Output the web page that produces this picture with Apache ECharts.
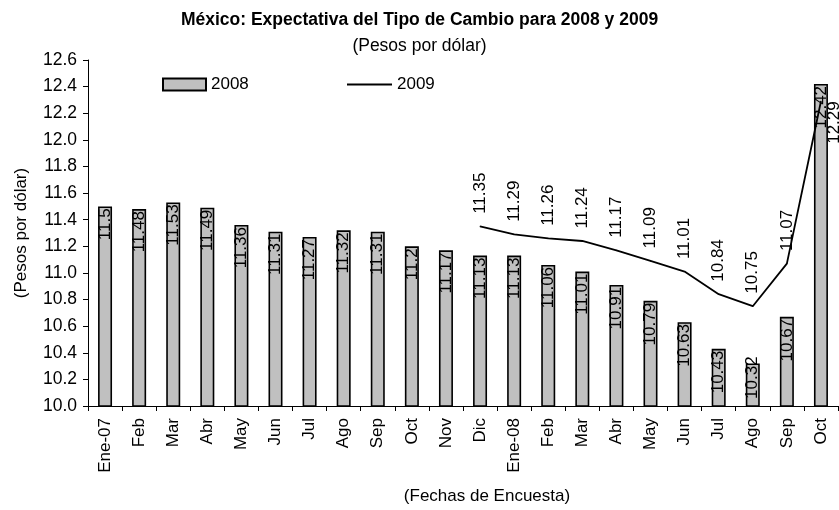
<!DOCTYPE html>
<html>
<head>
<meta charset="utf-8">
<script src="https://cdn.jsdelivr.net/npm/echarts@6/dist/echarts.min.js"></script>
<style>
  html, body { margin: 0; padding: 0; background: #fff; }
  #chart { width: 839px; height: 510px; }
</style>
</head>
<body>
<div id="chart"></div>
<script>
const categories = ['Ene-07', 'Feb', 'Mar', 'Abr', 'May', 'Jun', 'Jul', 'Ago', 'Sep', 'Oct', 'Nov', 'Dic',
  'Ene-08', 'Feb', 'Mar', 'Abr', 'May', 'Jun', 'Jul', 'Ago', 'Sep', 'Oct'];
const values2008 = [11.5, 11.48, 11.53, 11.49, 11.36, 11.31, 11.27, 11.32, 11.31, 11.2, 11.17, 11.13,
  11.13, 11.06, 11.01, 10.91, 10.79, 10.63, 10.43, 10.32, 10.67, 12.42];
const values2009 = [null, null, null, null, null, null, null, null, null, null, null, 11.35,
  11.29, 11.26, 11.24, 11.17, 11.09, 11.01, 10.84, 10.75, 11.07, 12.29];

const font = 'Liberation Sans, Arial, sans-serif';
const chart = echarts.init(document.getElementById('chart'));

// shortest bar: label sticks out above the bar top in the original
const barData = values2008.map((v, i) => {
  if (i === 19) {
    return { value: v, label: { distance: -7 } };
  }
  return v;
});

// last point of 2009 has its label on the right side, like the original
const lineData = values2009.map((v, i) => {
  if (i === values2009.length - 1) {
    return { value: v, label: { position: 'right', distance: 13, align: 'right' } };
  }
  return v;
});

const option = {
  animation: false,
  backgroundColor: '#fff',
  textStyle: { fontFamily: font },
  title: [
    { text: 'México: Expectativa del Tipo de Cambio para 2008 y 2009', left: 'center', top: 11, padding: 0,
      textStyle: { fontFamily: font, fontSize: 17.5, fontWeight: 'bold', color: '#000' } },
    { text: '(Pesos por dólar)', left: 'center', top: 37, padding: 0,
      textStyle: { fontFamily: font, fontSize: 17.5, fontWeight: 'normal', color: '#000' } }
  ],
  legend: [
    { data: [{ name: '2008', icon: 'rect' }], left: 162, top: 76, padding: 0,
      itemWidth: 43, itemHeight: 12,
      textStyle: { fontFamily: font, fontSize: 17, color: '#000' } },
    { data: [{ name: '2009', icon: 'rect', itemStyle: { color: '#000', borderWidth: 0 } }],
      left: 347, top: 76, padding: 0, itemWidth: 45, itemHeight: 2,
      textStyle: { fontFamily: font, fontSize: 17, color: '#000' } }
  ],
  grid: { left: 88, right: 1, top: 60, bottom: 100 },
  xAxis: {
    type: 'category',
    data: categories,
    name: '(Fechas de Encuesta)',
    nameLocation: 'middle',
    nameGap: 82,
    nameTextStyle: { fontFamily: font, fontSize: 17, color: '#000', padding: [0, 0, 0, 48] },
    axisLine: { lineStyle: { color: '#000', width: 1 } },
    axisTick: { show: true, alignWithLabel: false, length: 5, lineStyle: { color: '#000' } },
    axisLabel: { rotate: 90, fontFamily: font, fontSize: 17, color: '#000', margin: 12, interval: 0 }
  },
  yAxis: {
    type: 'value',
    min: 10.0,
    max: 12.6,
    interval: 0.2,
    name: '(Pesos por dólar)',
    nameLocation: 'middle',
    nameRotate: 90,
    nameGap: 58,
    nameTextStyle: { fontFamily: font, fontSize: 17, color: '#000' },
    axisLine: { show: true, lineStyle: { color: '#000', width: 1 } },
    axisTick: { show: true, length: 5, lineStyle: { color: '#000' } },
    splitLine: { show: false },
    axisLabel: { fontFamily: font, fontSize: 17.5, color: '#000', margin: 11, formatter: v => v.toFixed(1) }
  },
  series: [
    {
      name: '2008',
      type: 'bar',
      data: barData,
      barWidth: 14,
      itemStyle: { color: '#c0c0c0', borderColor: '#000', borderWidth: 1.6 },
      label: {
        show: true, position: 'insideTop', rotate: 90, distance: 2,
        align: 'right', verticalAlign: 'middle',
        fontFamily: font, fontSize: 17, color: '#000'
      }
    },
    {
      name: '2009',
      type: 'line',
      data: lineData,
      connectNulls: false,
      symbol: 'circle',
      symbolSize: 1,
      itemStyle: { color: '#000' },
      lineStyle: { color: '#000', width: 1.8 },
      label: {
        show: true, position: 'top', rotate: 90, distance: 12,
        align: 'left', verticalAlign: 'middle',
        fontFamily: font, fontSize: 17, color: '#000'
      }
    }
  ]
};
chart.setOption(option);
</script>
</body>
</html>
